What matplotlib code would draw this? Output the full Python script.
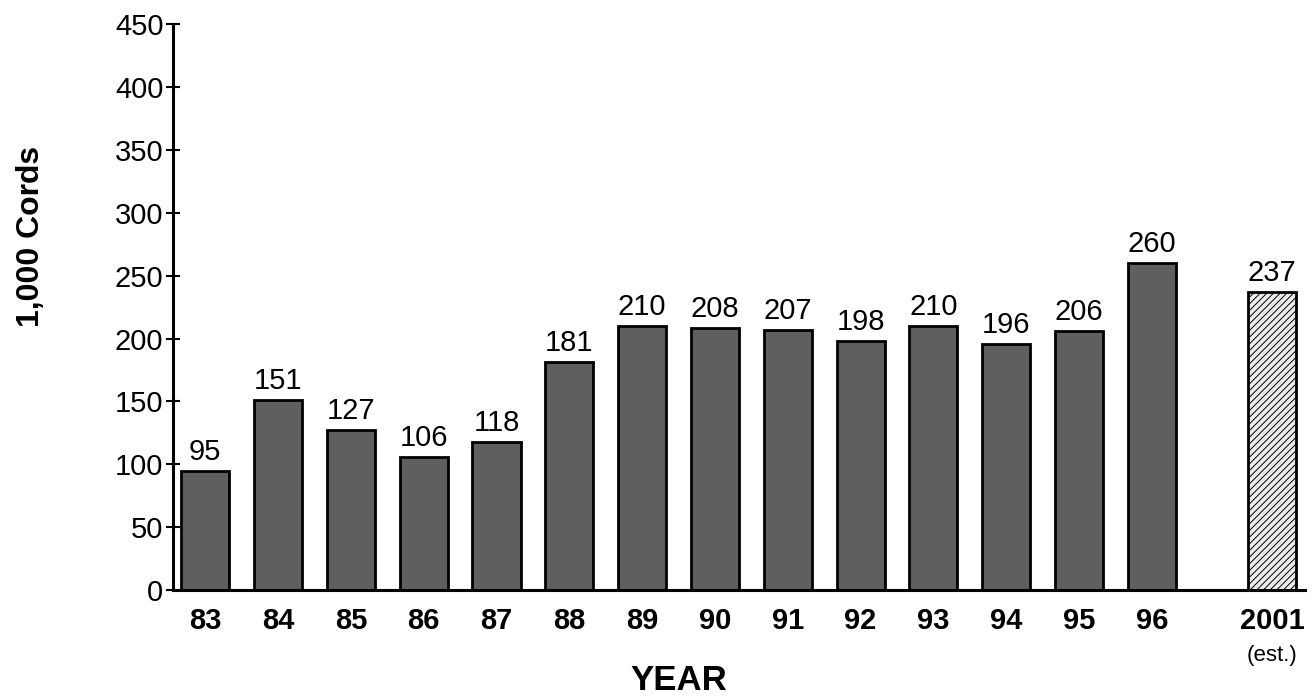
import numpy as np
import matplotlib
matplotlib.use('Agg')
import matplotlib.pyplot as plt
import matplotlib.transforms as mtransforms

plt.rcParams['font.family'] = ['Liberation Sans', 'DejaVu Sans']
plt.rcParams['hatch.linewidth'] = 0.7

# data
years = ['83', '84', '85', '86', '87', '88', '89', '90', '91', '92', '93', '94', '95', '96']
cords = [95, 151, 127, 106, 118, 181, 210, 208, 207, 198, 210, 196, 206, 260]
est_year = '2001'
est_value = 237

fig = plt.figure(figsize=(13.12, 6.96), dpi=100)
ax = fig.add_axes([0.132, 0.152, 0.863, 0.8135])

index = np.arange(len(years))
est_pos = len(years) + 0.65
w = 0.66

ax.bar(index, cords, width=w, color='#5f5f5f', edgecolor='black', linewidth=2)
ax.bar([est_pos], [est_value], width=w, color='#ececec', edgecolor='black',
       linewidth=2, hatch='/////')

# numbers over the bars
for x, v in zip(list(index) + [est_pos], cords + [est_value]):
    ax.text(x, v + 4, str(v), ha='center', va='bottom', fontsize=21)

ax.set_ylim(0, 450)
ax.set_xlim(-0.44, 15.11)
ax.set_yticks(np.arange(0, 451, 50))
ax.tick_params(axis='y', direction='inout', length=10, width=1.5, labelsize=21, pad=2)
ax.set_xticks(list(index) + [est_pos])
ax.set_xticklabels(years + [est_year], fontsize=21, fontweight='bold')
ax.tick_params(axis='x', length=0, pad=12)

for s in ['top', 'right']:
    ax.spines[s].set_visible(False)
ax.spines['left'].set_linewidth(2.2)
ax.spines['bottom'].set_linewidth(2.2)

trans = mtransforms.blended_transform_factory(ax.transData, ax.transAxes)
ax.text(est_pos, -0.097, '(est.)', transform=trans, ha='center', va='top', fontsize=16)
ax.text((index[0] + index[-1]) / 2, -0.13, 'YEAR', transform=trans, ha='center',
        va='top', fontsize=25, fontweight='bold')

ax.set_ylabel('1,000 Cords', fontsize=23, fontweight='bold')
ax.yaxis.set_label_coords(-0.112, 0.625)

plt.savefig('out.png', dpi=100)
